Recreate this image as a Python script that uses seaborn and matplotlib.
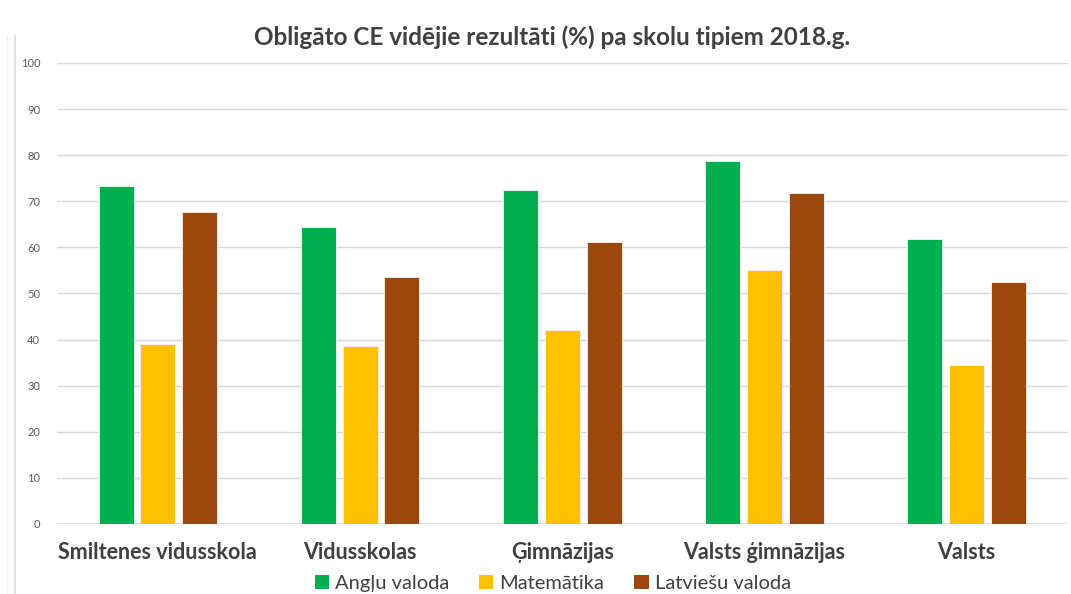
import matplotlib
matplotlib.use("Agg")
import matplotlib.pyplot as plt
import seaborn as sns
import pandas as pd
from matplotlib.lines import Line2D
from matplotlib.patches import Patch

categories = ["Smiltenes vidusskola", "Vidusskolas", "Ģimnāzijas", "Valsts ģimnāzijas", "Valsts"]
series = ["Angļu valoda", "Matemātika", "Latviešu valoda"]
anglu = [73.2, 64.4, 72.5, 78.7, 61.8]
matem = [39.0, 38.7, 42.1, 55.1, 34.5]
latv = [67.6, 53.6, 61.2, 71.7, 52.5]
colors = ["#00B050", "#FFC000", "#9C470E"]
title = "Obligāto CE vidējie rezultāti (%) pa skolu tipiem 2018.g."

rows = []
for s, vals in zip(series, [anglu, matem, latv]):
    for c, v in zip(categories, vals):
        rows.append({"cat": c, "series": s, "val": v})
df = pd.DataFrame(rows)

sns.set_theme(style="white")
plt.rcParams["font.family"] = ["Lato", "DejaVu Sans"]

fig = plt.figure(figsize=(10.71, 5.94), dpi=100)
ax = fig.add_axes([0.053, 0.118, 0.944, 0.776])
sns.barplot(data=df, x="cat", y="val", hue="series", palette=colors,
            order=categories, hue_order=series, width=0.62, gap=0.16,
            saturation=1, edgecolor="#f4f4f4", linewidth=0.6, ax=ax,
            legend=False, zorder=3)

ax.set_ylim(0, 100)
ax.set_yticks(range(0, 101, 10))
ax.set_xlim(-0.5, len(categories) - 0.5)
ax.grid(axis="y", color="#d9d9d9", linewidth=1, zorder=0)
ax.set_axisbelow(True)
for sp in ax.spines.values():
    sp.set_visible(False)
ax.axhline(0, color="#d9d9d9", linewidth=1.2, zorder=1)
ax.set_xlabel("")
ax.set_ylabel("")
ax.tick_params(axis="y", length=0, pad=12, labelsize=8, labelcolor="#595959")
ax.tick_params(axis="x", length=0, pad=13, labelsize=15.5, labelcolor="#404040")
for lab in ax.get_xticklabels():
    lab.set_fontweight("bold")

fig.text(0.515, 0.937, title, ha="center", va="center", fontsize=17.5,
         fontweight="bold", color="#404040")

handles = [Patch(facecolor=c, edgecolor="none") for c in colors]
fig.legend(handles, series, loc="center", bbox_to_anchor=(0.516, 0.018),
           ncol=3, frameon=False, fontsize=14.5, handlelength=0.7, handleheight=0.7,
           handletextpad=0.3, columnspacing=1.5, labelcolor="#404040")

fig.add_artist(Line2D([0.014, 0.014], [0, 0.94], transform=fig.transFigure,
                      color="#d9d9d9", linewidth=1.2))
fig.add_artist(Line2D([0.007, 0.007], [0, 0.94], transform=fig.transFigure,
                      color="#f0f0f0", linewidth=1.0))

fig.savefig("out.png", dpi=100)
